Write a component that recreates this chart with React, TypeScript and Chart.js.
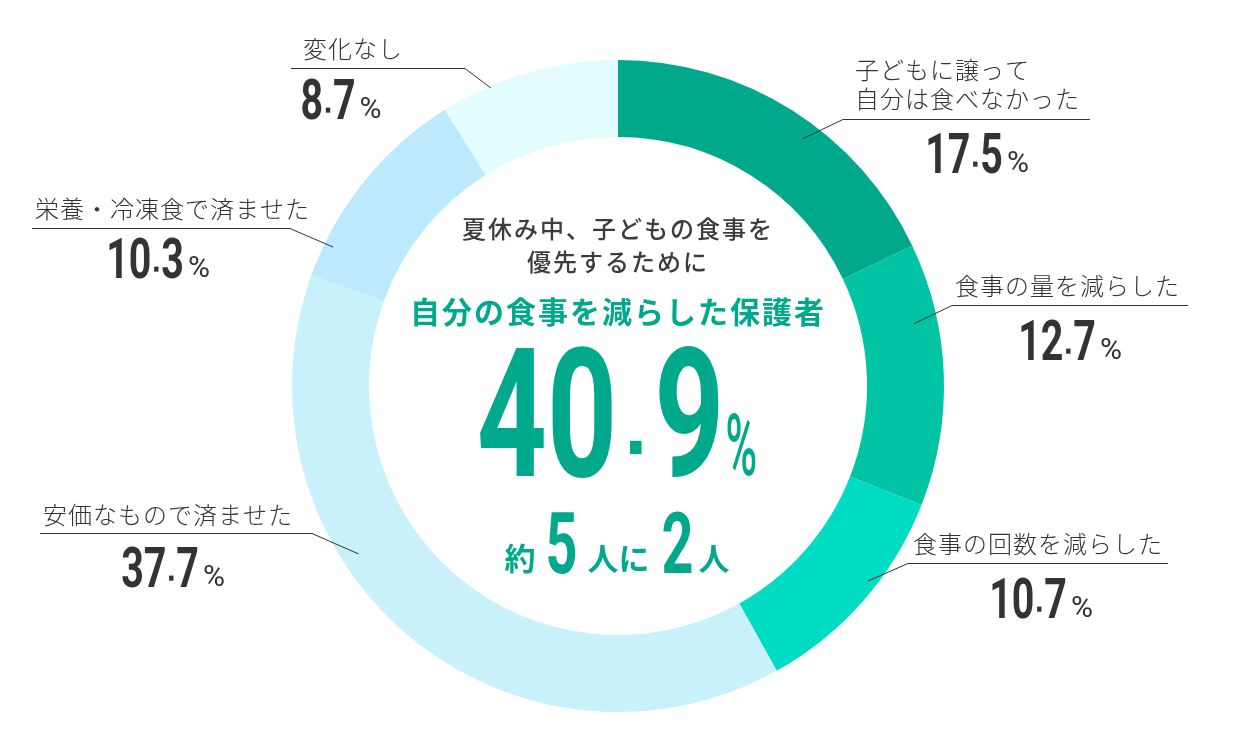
import { useEffect, useRef } from "react";
import { Chart, registerables } from "chart.js";

Chart.register(...registerables);

// data
const categories = [
  ["子どもに譲って", "自分は食べなかった"],
  ["食事の量を減らした"],
  ["食事の回数を減らした"],
  ["安価なもので済ませた"],
  ["栄養・冷凍食で済ませた"],
  ["変化なし"],
];
const values = [17.5, 12.7, 10.7, 37.7, 10.3, 8.7];
const sliceColors = ["#00a98b", "#00c4a3", "#00dcc4", "#c9f1fc", "#bce9fb", "#e3fcfe"];

const titleLines = ["夏休み中、子どもの食事を", "優先するために"];
const highlight = "自分の食事を減らした保護者";
const headline = "40.9";
const ratioParts = ["約", "5", "人に", "2", "人"];

// label placement (layout only)
const labelLayout = [
  { elbowX: 843, farX: 1090, lineY: 119, textX: 855, textY: [70, 99], numX: 977, numY: 173, t: 0.57, inset: 17 },
  { elbowX: 952, farX: 1188, lineY: 305, textX: 955, textY: [286], numX: 1070, numY: 360, t: 0.29, inset: 24 },
  { elbowX: 908, farX: 1168, lineY: 563, textX: 913, textY: [544], numX: 1041, numY: 618, t: 0.42, inset: 9 },
  { elbowX: 312, farX: 40, lineY: 533, textX: 43, textY: [515], numX: 173, numY: 587, t: 0.62, inset: 17 },
  { elbowX: 290, farX: 32, lineY: 228, textX: 35, textY: [209], numX: 158, numY: 278, t: 0.16, inset: 9 },
  { elbowX: 465, farX: 291, lineY: 68, textX: 303, textY: [49], numX: 341, numY: 119, t: 0.28, inset: 2 },
];

const JP = "'Noto Sans CJK JP', 'Noto Sans', sans-serif";
const NUM = "Roboto, 'Liberation Sans', sans-serif";
const TEAL = "#00a98b";
const INK = "#333333";

type NumOpts = { cap: number; sx: number; gap: number; dot: number; pctFont: string; pctSx: number; pctGap: number };

function drawNumber(ctx: CanvasRenderingContext2D, text: string, cx: number, base: number, color: string, o: NumOpts) {
  const [ip, dp] = text.split(".");
  const size = o.cap / 0.711;
  const numFont = `700 ${size}px ${NUM}`;
  ctx.font = numFont;
  const wi = ctx.measureText(ip).width * o.sx;
  const wd = ctx.measureText(dp).width * o.sx;
  const dot = o.cap * o.dot;
  const gap = o.cap * o.gap;
  ctx.font = o.pctFont;
  const wp = ctx.measureText("%").width * o.pctSx;
  const total = wi + gap * 2 + dot + wd + o.pctGap + wp;
  let x = cx - total / 2;

  ctx.fillStyle = color;
  ctx.textAlign = "left";
  ctx.textBaseline = "alphabetic";

  ctx.font = numFont;
  ctx.save();
  ctx.translate(x, base);
  ctx.scale(o.sx, 1);
  ctx.fillText(ip, 0, 0);
  ctx.restore();
  x += wi + gap;

  ctx.fillRect(x, base - o.cap * 0.23 - dot / 2, dot, dot * 1.15);
  x += dot + gap;

  ctx.save();
  ctx.translate(x, base);
  ctx.scale(o.sx, 1);
  ctx.fillText(dp, 0, 0);
  ctx.restore();
  x += wd + o.pctGap;

  ctx.font = o.pctFont;
  ctx.save();
  ctx.translate(x, base - 1);
  ctx.scale(o.pctSx, 1);
  ctx.fillText("%", 0, 0);
  ctx.restore();
}

const smallNum: NumOpts = { cap: 40, sx: 0.7, gap: 0.07, dot: 0.11, pctFont: `400 30px ${NUM}`, pctSx: 1, pctGap: 4 };

const labelsPlugin = {
  id: "labels",
  afterDraw(chart: Chart) {
    const ctx = chart.ctx;
    const arcs = chart.getDatasetMeta(0).data as any[];
    ctx.save();

    // leader lines and labels
    labelLayout.forEach((l, i) => {
      const arc = arcs[i];
      if (!arc) return;
      const { x, y, startAngle, endAngle, outerRadius } = arc.getProps(
        ["x", "y", "startAngle", "endAngle", "outerRadius"],
        true
      );
      const a = startAngle + l.t * (endAngle - startAngle);
      const r = outerRadius - l.inset;
      ctx.strokeStyle = INK;
      ctx.lineWidth = 1;
      ctx.beginPath();
      ctx.moveTo(l.farX, l.lineY + 0.5);
      ctx.lineTo(l.elbowX, l.lineY + 0.5);
      ctx.lineTo(x + Math.cos(a) * r, y + Math.sin(a) * r);
      ctx.stroke();

      ctx.fillStyle = INK;
      ctx.font = `300 24px ${JP}`;
      ctx.textAlign = "left";
      ctx.textBaseline = "middle";
      (ctx as any).letterSpacing = "1px";
      categories[i].forEach((line, j) => ctx.fillText(line, l.textX, l.textY[j]));
      (ctx as any).letterSpacing = "0px";

      drawNumber(ctx, values[i].toFixed(1), l.numX, l.numY, INK, smallNum);
    });

    // centre text
    const cx = 617;
    ctx.textAlign = "center";
    ctx.textBaseline = "middle";
    ctx.fillStyle = "#3c3c3c";
    ctx.font = `500 24px ${JP}`;
    (ctx as any).letterSpacing = "2px";
    ctx.fillText(titleLines[0], cx + 1, 229);
    ctx.fillText(titleLines[1], cx + 1, 262);
    ctx.fillStyle = TEAL;
    ctx.font = `700 30px ${JP}`;
    ctx.fillText(highlight, cx + 1, 312);
    (ctx as any).letterSpacing = "0px";

    drawNumber(ctx, headline, cx, 476, TEAL, {
      cap: 128,
      sx: 0.68,
      gap: 0.1,
      dot: 0.09,
      pctFont: `500 86px ${NUM}`,
      pctSx: 0.5,
      pctGap: 1,
    });

    // 約5人に2人
    const gaps = [10, 10, 12, 5, 0];
    const digitFont = `700 ${60 / 0.711}px ${NUM}`;
    const jpFont = `700 31px ${JP}`;
    const widths = ratioParts.map((p, i) => {
      ctx.font = i % 2 === 1 ? digitFont : jpFont;
      return ctx.measureText(p).width * (i % 2 === 1 ? 0.66 : 1);
    });
    const total = widths.reduce((s, w, i) => s + w + gaps[i], 0);
    let x = cx - total / 2;
    ctx.textAlign = "left";
    ctx.fillStyle = TEAL;
    ratioParts.forEach((p, i) => {
      if (i % 2 === 1) {
        ctx.font = digitFont;
        ctx.textBaseline = "alphabetic";
        ctx.save();
        ctx.translate(x, 573);
        ctx.scale(0.66, 1);
        ctx.fillText(p, 0, 0);
        ctx.restore();
      } else {
        ctx.font = jpFont;
        ctx.textBaseline = "middle";
        ctx.fillText(p, x, 558);
      }
      x += widths[i] + gaps[i];
    });

    ctx.restore();
  },
};

export default function App() {
  const canvasRef = useRef<HTMLCanvasElement | null>(null);

  useEffect(() => {
    if (!canvasRef.current) return;
    const chart = new Chart(canvasRef.current, {
      type: "doughnut",
      data: {
        labels: categories.map((c) => c.join("")),
        datasets: [
          {
            data: values,
            backgroundColor: sliceColors,
            borderWidth: 0,
          },
        ],
      },
      options: {
        responsive: false,
        animation: false,
        cutout: "76.4%",
        layout: { padding: { left: 292, right: 299, top: 60, bottom: 34 } },
        plugins: {
          legend: { display: false },
          tooltip: { enabled: false },
        },
      },
      plugins: [labelsPlugin],
    });
    document.fonts?.ready.then(() => chart.draw());

    return () => {
      chart.destroy();
    };
  }, []);

  return (
    <div style={{ position: "absolute", left: 0, top: 0, width: 1243, height: 746, background: "#fff" }}>
      <canvas ref={canvasRef} width={1243} height={746}></canvas>
    </div>
  );
}
